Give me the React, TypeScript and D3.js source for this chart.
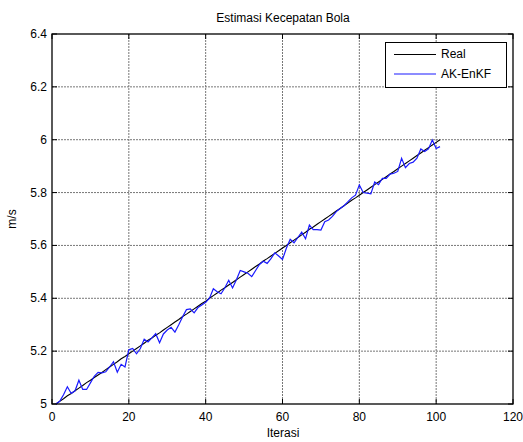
import * as d3 from "d3";

const iterations: number[] = Array.from({ length: 101 }, (_, i) => i + 1);

// kecepatan sebenarnya
const realValues: number[] = [
  5.000, 5.010, 5.020, 5.031, 5.040, 5.050, 5.060, 5.070, 5.081, 5.090,
  5.100, 5.110, 5.119, 5.130, 5.140, 5.150, 5.160, 5.171, 5.180, 5.190,
  5.200, 5.210, 5.220, 5.230, 5.241, 5.250, 5.260, 5.269, 5.280, 5.290,
  5.300, 5.310, 5.320, 5.331, 5.340, 5.350, 5.360, 5.370, 5.380, 5.389,
  5.400, 5.410, 5.420, 5.431, 5.440, 5.450, 5.460, 5.470, 5.480, 5.490,
  5.500, 5.510, 5.520, 5.530, 5.541, 5.550, 5.560, 5.570, 5.580, 5.590,
  5.600, 5.610, 5.620, 5.630, 5.640, 5.650, 5.661, 5.670, 5.680, 5.690,
  5.700, 5.710, 5.720, 5.730, 5.740, 5.750, 5.760, 5.771, 5.780, 5.790,
  5.800, 5.810, 5.820, 5.830, 5.840, 5.850, 5.860, 5.870, 5.880, 5.890,
  5.900, 5.910, 5.920, 5.930, 5.940, 5.950, 5.960, 5.970, 5.980, 5.990,
  6.000,
];

// estimasi AK-EnKF
const enkfValues: number[] = [
  5.000, 5.010, 5.035, 5.065, 5.040, 5.050, 5.090, 5.055, 5.055, 5.080,
  5.105, 5.120, 5.118, 5.122, 5.140, 5.160, 5.120, 5.150, 5.140, 5.205,
  5.210, 5.190, 5.210, 5.245, 5.235, 5.250, 5.266, 5.232, 5.265, 5.280,
  5.290, 5.272, 5.300, 5.330, 5.357, 5.360, 5.345, 5.365, 5.375, 5.385,
  5.400, 5.436, 5.425, 5.417, 5.440, 5.468, 5.439, 5.470, 5.505, 5.500,
  5.495, 5.482, 5.505, 5.528, 5.540, 5.532, 5.550, 5.572, 5.560, 5.547,
  5.589, 5.623, 5.610, 5.630, 5.650, 5.625, 5.677, 5.660, 5.660, 5.658,
  5.690, 5.696, 5.710, 5.728, 5.740, 5.750, 5.765, 5.780, 5.790, 5.829,
  5.800, 5.798, 5.795, 5.840, 5.830, 5.854, 5.854, 5.870, 5.873, 5.880,
  5.930, 5.894, 5.910, 5.915, 5.930, 5.965, 5.955, 5.965, 5.999, 5.967,
  5.974,
];

const xTicks: number[] = [0, 20, 40, 60, 80, 100, 120];
const yTicks: number[] = [5, 5.2, 5.4, 5.6, 5.8, 6, 6.2, 6.4];
const legendLabels: string[] = ["Real", "AK-EnKF"];
const seriesColors: string[] = ["#000000", "#1a1aff"];

const W = 523;
const H = 442;
const plot = { left: 52, right: 513, top: 34, bottom: 404 };
const font = "Arial, 'Liberation Sans', Helvetica, sans-serif";

export default function App() {
  const x = d3.scaleLinear().domain([0, 120]).range([plot.left, plot.right]);
  const y = d3.scaleLinear().domain([5, 6.4]).range([plot.bottom, plot.top]);

  const line = d3
    .line<number>()
    .x((_, i) => x(iterations[i]))
    .y((d) => y(d));

  const tick = 5;

  return (
    <div style={{ position: "absolute", left: 0, top: 0, background: "#fff" }}>
      <svg width={W} height={H} style={{ display: "block", fontFamily: font }}>
        <rect width={W} height={H} fill="#fff" />

        {/* grid */}
        {xTicks.slice(1, -1).map((t) => (
          <line
            key={"gx" + t}
            x1={x(t)}
            x2={x(t)}
            y1={plot.top}
            y2={plot.bottom}
            stroke="#777"
            strokeWidth={1}
            strokeDasharray="2,1"
          />
        ))}
        {yTicks.slice(1, -1).map((t) => (
          <line
            key={"gy" + t}
            x1={plot.left}
            x2={plot.right}
            y1={y(t)}
            y2={y(t)}
            stroke="#777"
            strokeWidth={1}
            strokeDasharray="2,1"
          />
        ))}

        {/* ticks */}
        {xTicks.map((t) => (
          <g key={"tx" + t}>
            <line x1={x(t)} x2={x(t)} y1={plot.bottom} y2={plot.bottom - tick} stroke="#000" />
            <line x1={x(t)} x2={x(t)} y1={plot.top} y2={plot.top + tick} stroke="#000" />
            <text x={x(t)} y={plot.bottom + 17} fontSize={12} textAnchor="middle" fill="#000">
              {t}
            </text>
          </g>
        ))}
        {yTicks.map((t) => (
          <g key={"ty" + t}>
            <line x1={plot.left} x2={plot.left + tick} y1={y(t)} y2={y(t)} stroke="#000" />
            <line x1={plot.right} x2={plot.right - tick} y1={y(t)} y2={y(t)} stroke="#000" />
            <text x={plot.left - 5} y={y(t) + 4} fontSize={12} textAnchor="end" fill="#000">
              {d3.format("~g")(t)}
            </text>
          </g>
        ))}

        {/* series */}
        <path d={line(realValues) ?? ""} fill="none" stroke={seriesColors[0]} strokeWidth={1.1} />
        <path d={line(enkfValues) ?? ""} fill="none" stroke={seriesColors[1]} strokeWidth={1.2} />

        {/* frame */}
        <rect
          x={plot.left}
          y={plot.top}
          width={plot.right - plot.left}
          height={plot.bottom - plot.top}
          fill="none"
          stroke="#000"
          strokeWidth={1.3}
        />

        {/* legend */}
        <rect x={385.5} y={42.5} width={121} height={45} fill="#fff" stroke="#000" strokeWidth={1} />
        {legendLabels.map((lab, i) => (
          <g key={lab}>
            <line x1={394} x2={436} y1={54.5 + i * 19.5} y2={54.5 + i * 19.5} stroke={seriesColors[i]} strokeWidth={1.2} />
            <text x={441} y={58 + i * 19.5} fontSize={12} fill="#000">
              {lab}
            </text>
          </g>
        ))}

        {/* labels */}
        <text x={283} y={22} fontSize={12} textAnchor="middle" fill="#000">
          Estimasi Kecepatan Bola
        </text>
        <text x={283} y={437} fontSize={12} textAnchor="middle" fill="#000">
          Iterasi
        </text>
        <text
          transform={`translate(16,${(plot.top + plot.bottom) / 2}) rotate(-90)`}
          fontSize={12}
          textAnchor="middle"
          fill="#000"
        >
          m/s
        </text>
      </svg>
    </div>
  );
}
